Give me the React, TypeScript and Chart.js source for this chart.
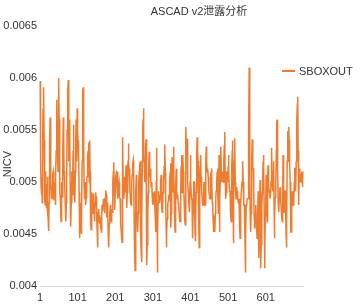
import React, { useEffect, useRef } from "react";
import { Chart, registerables } from "chart.js";

Chart.register(...registerables);

const chartTitle = "ASCAD v2泄露分析";
const yAxisTitle = "NICV";
const seriesName = "SBOXOUT";
const yTicks = [0.004, 0.0045, 0.005, 0.0055, 0.006, 0.0065];
const xTickLabels = ["1", "101", "201", "301", "401", "501", "601"];

const sboxout = [
  0.00597, 0.00560, 0.00520, 0.00495, 0.00488, 0.00505, 0.00480, 0.00530, 0.00570, 0.00589,
  0.00591, 0.00540, 0.00500, 0.00482, 0.00478, 0.00510, 0.00490, 0.00475, 0.00498, 0.00476,
  0.00505, 0.00470, 0.00462, 0.00453, 0.00480, 0.00512, 0.00540, 0.00562, 0.00530, 0.00500,
  0.00492, 0.00485, 0.00484, 0.00498, 0.00507, 0.00510, 0.00509, 0.00495, 0.00483, 0.00500,
  0.00490, 0.00478, 0.00505, 0.00530, 0.00560, 0.00579, 0.00550, 0.00520, 0.00510, 0.00575,
  0.00600, 0.00560, 0.00500, 0.00490, 0.00484, 0.00470, 0.00462, 0.00475, 0.00500, 0.00491,
  0.00485, 0.00530, 0.00562, 0.00540, 0.00510, 0.00505, 0.00500, 0.00480, 0.00470, 0.00462,
  0.00480, 0.00510, 0.00550, 0.00590, 0.00580, 0.00598, 0.00570, 0.00520, 0.00560, 0.00547,
  0.00500, 0.00470, 0.00457, 0.00480, 0.00510, 0.00495, 0.00488, 0.00505, 0.00530, 0.00555,
  0.00520, 0.00490, 0.00482, 0.00480, 0.00510, 0.00540, 0.00560, 0.00520, 0.00545, 0.00571,
  0.00550, 0.00540, 0.00520, 0.00529, 0.00490, 0.00460, 0.00446, 0.00465, 0.00480, 0.00462,
  0.00450, 0.00470, 0.00520, 0.00590, 0.00560, 0.00591, 0.00540, 0.00500, 0.00490, 0.00484,
  0.00490, 0.00500, 0.00478, 0.00485, 0.00495, 0.00505, 0.00512, 0.00525, 0.00530, 0.00538,
  0.00520, 0.00500, 0.00540, 0.00510, 0.00480, 0.00462, 0.00454, 0.00470, 0.00490, 0.00484,
  0.00476, 0.00470, 0.00488, 0.00489, 0.00470, 0.00462, 0.00475, 0.00480, 0.00490, 0.00484,
  0.00486, 0.00470, 0.00452, 0.00437, 0.00460, 0.00471, 0.00474, 0.00468, 0.00460, 0.00462,
  0.00466, 0.00455, 0.00462, 0.00452, 0.00470, 0.00478, 0.00478, 0.00472, 0.00480, 0.00484,
  0.00478, 0.00476, 0.00470, 0.00485, 0.00480, 0.00492, 0.00488, 0.00471, 0.00466, 0.00480,
  0.00470, 0.00455, 0.00440, 0.00437, 0.00460, 0.00472, 0.00471, 0.00478, 0.00466, 0.00462,
  0.00470, 0.00474, 0.00471, 0.00480, 0.00500, 0.00510, 0.00519, 0.00500, 0.00480, 0.00473,
  0.00490, 0.00505, 0.00507, 0.00500, 0.00495, 0.00510, 0.00500, 0.00484, 0.00490, 0.00498,
  0.00500, 0.00492, 0.00485, 0.00484, 0.00470, 0.00460, 0.00452, 0.00446, 0.00442, 0.00510,
  0.00543, 0.00500, 0.00484, 0.00484, 0.00490, 0.00505, 0.00491, 0.00500, 0.00507, 0.00516,
  0.00495, 0.00475, 0.00490, 0.00505, 0.00520, 0.00537, 0.00520, 0.00510, 0.00513, 0.00495,
  0.00485, 0.00480, 0.00478, 0.00490, 0.00500, 0.00507, 0.00512, 0.00518, 0.00521, 0.00505,
  0.00470, 0.00440, 0.00430, 0.00415, 0.00460, 0.00490, 0.00507, 0.00480, 0.00470, 0.00460,
  0.00452, 0.00470, 0.00490, 0.00500, 0.00510, 0.00516, 0.00520, 0.00490, 0.00450, 0.00430,
  0.00423, 0.00470, 0.00520, 0.00550, 0.00560, 0.00571, 0.00540, 0.00520, 0.00513, 0.00500,
  0.00520, 0.00535, 0.00541, 0.00470, 0.00420, 0.00440, 0.00460, 0.00471, 0.00490, 0.00510,
  0.00529, 0.00515, 0.00505, 0.00510, 0.00513, 0.00500, 0.00495, 0.00500, 0.00490, 0.00485,
  0.00478, 0.00482, 0.00490, 0.00486, 0.00491, 0.00480, 0.00470, 0.00460, 0.00452, 0.00500,
  0.00533, 0.00470, 0.00413, 0.00450, 0.00480, 0.00491, 0.00488, 0.00486, 0.00480, 0.00484,
  0.00495, 0.00500, 0.00507, 0.00490, 0.00475, 0.00471, 0.00478, 0.00490, 0.00500, 0.00500,
  0.00515, 0.00530, 0.00536, 0.00510, 0.00480, 0.00460, 0.00437, 0.00450, 0.00465, 0.00472,
  0.00478, 0.00482, 0.00485, 0.00484, 0.00490, 0.00500, 0.00510, 0.00518, 0.00456, 0.00470,
  0.00500, 0.00524, 0.00510, 0.00490, 0.00515, 0.00534, 0.00510, 0.00480, 0.00460, 0.00452,
  0.00470, 0.00495, 0.00513, 0.00505, 0.00491, 0.00484, 0.00488, 0.00480, 0.00478, 0.00478,
  0.00470, 0.00466, 0.00462, 0.00462, 0.00490, 0.00515, 0.00526, 0.00500, 0.00490, 0.00515,
  0.00526, 0.00510, 0.00495, 0.00484, 0.00470, 0.00465, 0.00459, 0.00500, 0.00553, 0.00530,
  0.00541, 0.00541, 0.00520, 0.00500, 0.00491, 0.00491, 0.00480, 0.00471, 0.00471, 0.00500,
  0.00526, 0.00500, 0.00488, 0.00484, 0.00484, 0.00462, 0.00446, 0.00470, 0.00490, 0.00500,
  0.00500, 0.00480, 0.00450, 0.00443, 0.00460, 0.00490, 0.00520, 0.00530, 0.00543, 0.00530,
  0.00520, 0.00520, 0.00470, 0.00437, 0.00470, 0.00500, 0.00515, 0.00526, 0.00505, 0.00491,
  0.00491, 0.00485, 0.00480, 0.00478, 0.00478, 0.00490, 0.00500, 0.00500, 0.00485, 0.00478,
  0.00500, 0.00520, 0.00534, 0.00520, 0.00510, 0.00513, 0.00513, 0.00505, 0.00495, 0.00491,
  0.00488, 0.00484, 0.00484, 0.00495, 0.00505, 0.00510, 0.00513, 0.00500, 0.00480, 0.00478,
  0.00465, 0.00452, 0.00468, 0.00460, 0.00455, 0.00452, 0.00470, 0.00480, 0.00491, 0.00491,
  0.00500, 0.00510, 0.00513, 0.00490, 0.00470, 0.00500, 0.00526, 0.00452, 0.00480, 0.00500,
  0.00520, 0.00534, 0.00510, 0.00500, 0.00507, 0.00510, 0.00505, 0.00500, 0.00513, 0.00520,
  0.00535, 0.00548, 0.00510, 0.00484, 0.00484, 0.00490, 0.00500, 0.00510, 0.00507, 0.00500,
  0.00515, 0.00526, 0.00510, 0.00495, 0.00491, 0.00491, 0.00480, 0.00470, 0.00462, 0.00490,
  0.00515, 0.00530, 0.00540, 0.00480, 0.00441, 0.00480, 0.00520, 0.00535, 0.00542, 0.00500,
  0.00490, 0.00484, 0.00490, 0.00495, 0.00491, 0.00491, 0.00485, 0.00480, 0.00482, 0.00484,
  0.00470, 0.00455, 0.00446, 0.00470, 0.00480, 0.00491, 0.00491, 0.00500, 0.00510, 0.00520,
  0.00500, 0.00480, 0.00478, 0.00478, 0.00460, 0.00440, 0.00413, 0.00450, 0.00478, 0.00478,
  0.00480, 0.00484, 0.00484, 0.00484, 0.00500, 0.00550, 0.00610, 0.00560, 0.00500, 0.00462,
  0.00452, 0.00470, 0.00500, 0.00520, 0.00541, 0.00530, 0.00513, 0.00513, 0.00490, 0.00470,
  0.00462, 0.00455, 0.00470, 0.00475, 0.00478, 0.00460, 0.00452, 0.00446, 0.00452, 0.00470,
  0.00491, 0.00460, 0.00427, 0.00450, 0.00484, 0.00502, 0.00470, 0.00417, 0.00440, 0.00460,
  0.00478, 0.00490, 0.00507, 0.00520, 0.00526, 0.00510, 0.00470, 0.00417, 0.00440, 0.00470,
  0.00478, 0.00507, 0.00490, 0.00470, 0.00462, 0.00500, 0.00516, 0.00505, 0.00495, 0.00491,
  0.00491, 0.00488, 0.00484, 0.00484, 0.00500, 0.00520, 0.00533, 0.00500, 0.00491, 0.00500,
  0.00510, 0.00520, 0.00480, 0.00446, 0.00465, 0.00485, 0.00491, 0.00491, 0.00530, 0.00556,
  0.00560, 0.00553, 0.00510, 0.00480, 0.00471, 0.00471, 0.00485, 0.00491, 0.00495, 0.00484,
  0.00484, 0.00475, 0.00470, 0.00465, 0.00462, 0.00490, 0.00526, 0.00500, 0.00480, 0.00471,
  0.00480, 0.00491, 0.00491, 0.00470, 0.00450, 0.00437, 0.00460, 0.00520, 0.00549, 0.00530,
  0.00520, 0.00553, 0.00540, 0.00516, 0.00516, 0.00500, 0.00470, 0.00452, 0.00452, 0.00470,
  0.00491, 0.00491, 0.00484, 0.00478, 0.00478, 0.00484, 0.00500, 0.00513, 0.00513, 0.00500,
  0.00491, 0.00520, 0.00540, 0.00560, 0.00575, 0.00582, 0.00530, 0.00478, 0.00478, 0.00513,
  0.00500, 0.00507, 0.00507, 0.00507, 0.00500, 0.00500, 0.00510, 0.00505, 0.00495, 0.00510,
];

const categories = sboxout.map((_, i) => String(i + 1));

const FONT = '"Liberation Sans", Arial, Helvetica, "Noto Sans CJK SC", sans-serif';
const LINE_COLOR = "#ED7D31";
const TEXT_COLOR = "#333333";

const overlayPlugin = {
  id: "overlayText",
  afterDraw(chart: any) {
    const ctx = chart.ctx;
    ctx.save();
    ctx.fillStyle = TEXT_COLOR;
    ctx.font = `11px ${FONT}`;
    ctx.textAlign = "center";
    ctx.textBaseline = "middle";
    ctx.fillText(chartTitle, 199, 12);

    ctx.save();
    ctx.translate(8, 164);
    ctx.rotate(-Math.PI / 2);
    ctx.fillText(yAxisTitle, 0, 0);
    ctx.restore();

    ctx.strokeStyle = LINE_COLOR;
    ctx.lineWidth = 2;
    ctx.beginPath();
    ctx.moveTo(282, 71);
    ctx.lineTo(295, 71);
    ctx.stroke();
    ctx.textAlign = "left";
    ctx.fillText(seriesName, 299, 71.5);
    ctx.restore();
  },
};

export default function App() {
  const ref = useRef<HTMLCanvasElement | null>(null);
  useEffect(() => {
    document.body.style.margin = "0";
    const canvas = ref.current;
    if (!canvas) return;
    const chart = new Chart(canvas, {
      type: "line",
      data: {
        labels: categories,
        datasets: [
          {
            label: seriesName,
            data: sboxout,
            borderColor: LINE_COLOR,
            backgroundColor: LINE_COLOR,
            borderWidth: 1.5,
            pointRadius: 0,
            tension: 0,
            fill: false,
          },
        ],
      },
      options: {
        responsive: false,
        animation: false,
        layout: { padding: { top: 26, right: 58, bottom: 0, left: 0 } },
        plugins: {
          legend: { display: false },
          title: { display: false },
          tooltip: { enabled: false },
        },
        scales: {
          x: {
            type: "category",
            offset: false,
            grid: { display: false, drawTicks: false },
            border: { display: true, color: "#d9d9d9", width: 1 },
            ticks: {
              autoSkip: false,
              maxRotation: 0,
              minRotation: 0,
              padding: 5,
              color: TEXT_COLOR,
              font: { size: 11, family: FONT },
              callback: (_v: any, i: number) => {
                const lab = categories[i];
                return xTickLabels.includes(lab) ? lab : null;
              },
            },
            afterFit: (scale: any) => {
              scale.height = 18;
            },
          },
          y: {
            min: yTicks[0],
            max: yTicks[yTicks.length - 1],
            grid: { display: false, drawTicks: false },
            border: { display: false },
            afterBuildTicks: (scale: any) => {
              scale.ticks = yTicks.map((v) => ({ value: v }));
            },
            ticks: {
              padding: 3,
              color: TEXT_COLOR,
              font: { size: 11, family: FONT },
              callback: (v: any) => String(Number(v)),
            },
            afterFit: (scale: any) => {
              scale.width = 40;
            },
          },
        },
      },
      plugins: [overlayPlugin],
    });
    return () => chart.destroy();
  }, []);
  return (
    <div style={{ width: 361, height: 304 }}>
      <canvas ref={ref} width={361} height={304} style={{ display: "block" }} />
    </div>
  );
}
